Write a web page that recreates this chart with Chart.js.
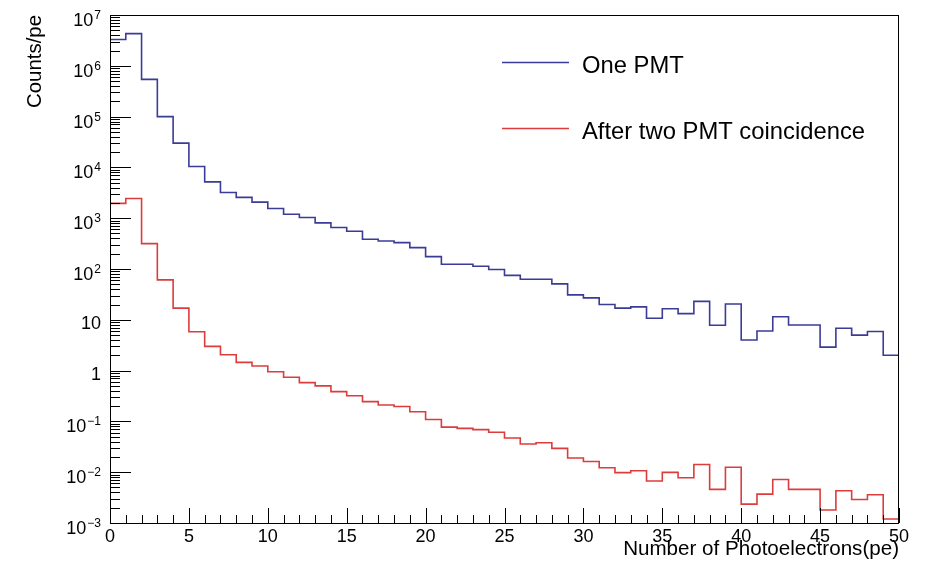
<!DOCTYPE html>
<html>
<head>
<meta charset="utf-8">
<script src="https://cdn.jsdelivr.net/npm/chart.js@4.4.1/dist/chart.umd.min.js"></script>
<style>
	html, body { margin: 0; padding: 0; background: #fff; }
	canvas { display: block; }
</style>
</head>
<body>
<canvas id="c" width="933" height="567"></canvas>
<script>
// bin edges of the histogram (pe), values are counts per bin
const binEdges = [
	0, 1, 2, 3, 4, 5, 6, 7, 8, 9, 10, 11, 12, 13, 14, 15, 16, 17, 18, 19, 20, 21, 22, 23, 24, 25,
	26, 27, 28, 29, 30, 31, 32, 33, 34, 35, 36, 37, 38, 39, 40, 41, 42, 43, 44, 45, 46, 47, 48, 49, 50,
];

const onePmt = [
	3.3e6, 4.3e6, 5.4e5, 1.0e5, 3.0e4, 1.04e4, 5.2e3, 3.2e3, 2.57e3, 2.07e3,
	1.55e3, 1.2e3, 1.03e3, 810, 655, 555, 385, 355, 330, 263,
	175, 124, 124, 113, 98, 75, 63, 63, 51, 31,
	27, 20, 17, 18, 10.7, 16.5, 13.2, 23, 7.8, 20.5,
	4.0, 6.0, 11.5, 7.9, 7.9, 2.9, 6.8, 5.0, 5.9, 2.0,
];

const coincidence = [
	1.96e3, 2.45e3, 316, 61, 17, 5.8, 3.0, 2.05, 1.45, 1.23,
	0.95, 0.74, 0.58, 0.5, 0.385, 0.32, 0.245, 0.21, 0.196, 0.155,
	0.109, 0.077, 0.073, 0.069, 0.061, 0.047, 0.036, 0.038, 0.0295, 0.019,
	0.0162, 0.0122, 0.0098, 0.0107, 0.0067, 0.0099, 0.0078, 0.0142, 0.0046, 0.0125,
	0.00235, 0.0037, 0.0072, 0.0046, 0.0046, 0.0018, 0.0043, 0.0029, 0.0036, 0.0012,
];

const seriesNames = ["One PMT", "After two PMT coincidence"];
const seriesColors = ["#3b3b98", "#dc3c3c"];
const xRange = [0, 50];
const yRange = [1e-3, 1e7];

const family = "'Liberation Sans', Arial, Helvetica, sans-serif";

// one point per left bin edge, last edge repeats the last bin
const histPoints = values =>
	binEdges.map((x, i) => ({ x, y: values[Math.min(i, values.length - 1)] }));

const rootFrame = {
	id: "rootFrame",
	afterDatasetsDraw(chart) {
		const { ctx, chartArea: a, scales } = chart;
		const { x, y } = scales;
		ctx.save();
		ctx.strokeStyle = "#000";
		ctx.lineWidth = 1;
		ctx.strokeRect(a.left + 0.5, a.top + 0.5, a.right - a.left - 1, a.bottom - a.top);

		// x ticks, pointing inward
		const xt = x.ticks.map(t => t.value);
		ctx.beginPath();
		xt.forEach((v, i) => {
			const px = Math.round(x.getPixelForValue(v)) + 0.5;
			ctx.moveTo(px, a.bottom);
			ctx.lineTo(px, a.bottom - 15);
			if (i < xt.length - 1) {
				const step = (xt[i + 1] - v) / 5;
				for (let k = 1; k < 5; k++) {
					const mx = Math.round(x.getPixelForValue(v + k * step)) + 0.5;
					ctx.moveTo(mx, a.bottom);
					ctx.lineTo(mx, a.bottom - 8);
				}
			}
		});
		ctx.stroke();

		// y ticks and labels 10^n
		ctx.beginPath();
		const majors = [];
		y.ticks.forEach(t => {
			const e = Math.floor(Math.log10(t.value) + 1e-9);
			const major = Math.abs(t.value / Math.pow(10, e) - 1) < 1e-6;
			const py = Math.round(y.getPixelForValue(t.value)) + 0.5;
			ctx.moveTo(a.left, py);
			ctx.lineTo(a.left + (major ? 21 : 10), py);
			if (major) majors.push([e, py]);
		});
		ctx.stroke();

		ctx.fillStyle = "#000";
		ctx.textAlign = "right";
		ctx.textBaseline = "alphabetic";
		const rx = a.left - 9;
		majors.forEach(([e, py]) => {
			if (e === 0 || e === 1) {
				ctx.font = `18px ${family}`;
				ctx.fillText(String(Math.pow(10, e)), rx, py + 8);
			} else {
				const exp = e < 0 ? "\u2212" + -e : String(e);
				ctx.font = `12px ${family}`;
				ctx.fillText(exp, rx, py + 3);
				const w = ctx.measureText(exp).width;
				ctx.font = `18px ${family}`;
				ctx.fillText("10", rx - w - 1, py + 10);
			}
		});

		// legend
		ctx.textAlign = "left";
		ctx.font = `23.8px ${family}`;
		chart.data.datasets.forEach((ds, i) => {
			const ly = 62.5 + i * 66;
			ctx.strokeStyle = ds.borderColor;
			ctx.lineWidth = 1.6;
			ctx.beginPath();
			ctx.moveTo(502, ly);
			ctx.lineTo(569, ly);
			ctx.stroke();
			ctx.fillText(ds.label, 582, ly + 10);
		});
		ctx.restore();
	},
};

new Chart(document.getElementById("c"), {
	type: "line",
	data: {
		datasets: [onePmt, coincidence].map((values, i) => ({
			label: seriesNames[i],
			data: histPoints(values),
			borderColor: seriesColors[i],
			borderWidth: 1.6,
			stepped: "before",
			pointRadius: 0,
			fill: false,
		})),
	},
	plugins: [rootFrame],
	options: {
		responsive: false,
		animation: false,
		devicePixelRatio: 1,
		layout: { padding: { top: 15, right: 34, left: 0, bottom: 0 } },
		plugins: { legend: { display: false }, tooltip: { enabled: false } },
		scales: {
			x: {
				type: "linear",
				min: xRange[0],
				max: xRange[1],
				grid: { display: false },
				border: { display: false },
				ticks: {
					stepSize: 5,
					autoSkip: false,
					maxRotation: 0,
					padding: -5,
					color: "#000",
					font: { family, size: 18 },
				},
				title: {
					display: true,
					text: "Number of Photoelectrons(pe)",
					align: "end",
					color: "#000",
					font: { family, size: 20.6 },
					padding: { top: 0, bottom: 5 },
				},
				afterFit: s => {
					s.height = 44;
				},
			},
			y: {
				type: "logarithmic",
				min: yRange[0],
				max: yRange[1],
				grid: { display: false },
				border: { display: false },
				ticks: { display: false },
				title: {
					display: true,
					text: "Counts/pe",
					align: "end",
					color: "#000",
					font: { family, size: 20.4 },
					padding: { top: 23, bottom: 0 },
				},
				afterBuildTicks: s => {
					const ticks = [];
					const e0 = Math.round(Math.log10(s.min));
					const e1 = Math.round(Math.log10(s.max));
					for (let e = e0; e <= e1; e++) {
						for (let m = 1; m <= 9; m++) {
							if (e === e1 && m > 1) break;
							ticks.push({ value: m * Math.pow(10, e) });
						}
					}
					s.ticks = ticks;
				},
				afterFit: s => {
					s.width = 110;
				},
			},
		},
	},
});
</script>
</body>
</html>
